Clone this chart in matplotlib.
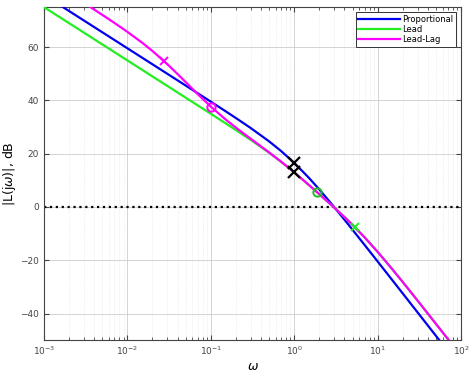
import numpy as np
import matplotlib
matplotlib.use("Agg")
import matplotlib.pyplot as plt
from matplotlib.ticker import LogLocator, NullFormatter

# frequency grid (rad/s) and loop gain magnitudes in dB
w = [0.001, 0.002, 0.003, 0.005, 0.007, 0.01, 0.015, 0.02, 0.03, 0.04, 0.05, 0.07,
     0.1, 0.15, 0.2, 0.3, 0.5, 0.7, 1, 1.5, 2, 3, 4, 5, 7, 10, 15, 20, 30, 50, 100]
mag_prop = [79.55, 73.53, 70.01, 65.57, 62.65, 59.55, 56.03, 53.53, 50.01, 47.50,
            45.56, 42.63, 39.51, 35.93, 33.36, 29.64, 24.60, 20.91, 16.54, 10.91,
            6.54, 0.01, -4.79, -8.58, -14.34, -20.49, -27.51, -32.50, -39.54,
            -48.41, -60.45]
mag_lead = [75.00, 68.98, 65.46, 61.02, 58.10, 55.00, 51.48, 48.98, 45.46, 42.95,
            41.01, 38.08, 34.97, 31.40, 28.85, 25.19, 20.31, 16.86, 12.94, 8.20,
            4.75, -0.18, -3.80, -6.74, -11.47, -16.87, -23.41, -28.21, -35.11,
            -43.91, -55.92]
mag_leadlag = [86.21, 80.17, 76.63, 72.10, 69.06, 65.72, 61.66, 58.52, 53.64, 49.87,
               46.85, 42.29, 37.66, 32.85, 29.74, 25.61, 20.47, 16.94, 12.98, 8.22,
               4.76, -0.17, -3.80, -6.74, -11.47, -16.87, -23.41, -28.21, -35.11,
               -43.91, -55.92]

# pole (x) and zero (o) locations on the curves
plant_pole_w = [1, 1]
plant_pole_db = [16.54, 12.98]
lag_pole = (0.0275, 54.73)
lag_zero = (0.1, 37.66)
lead_zero = (1.86, 5.63)
lead_pole = (5.3, -7.54)

fig = plt.figure(figsize=(4.72, 3.73), dpi=100)
ax = fig.add_axes([0.093, 0.088, 0.884, 0.893])

ax.semilogx(w, mag_prop, color="#0000ee", lw=1.6, label="Proportional", zorder=3)
ax.semilogx(w, mag_lead, color="#22ee22", lw=1.6, label="Lead", zorder=3)
ax.semilogx(w, mag_leadlag, color="#ff00ff", lw=1.6, label="Lead-Lag", zorder=4)
ax.axhline(0, color="black", ls=":", lw=1.6, zorder=2)

ax.plot(plant_pole_w, plant_pole_db, "x", color="black", ms=8, mew=1.6, zorder=5)
ax.plot(*lag_pole, "x", color="#ff00ff", ms=6, mew=1.4, zorder=5)
ax.plot(*lag_zero, "o", mfc="none", mec="#ff00ff", ms=6, mew=1.4, zorder=5)
ax.plot(*lead_zero, "o", mfc="none", mec="#22bb22", ms=6, mew=1.4, zorder=5)
ax.plot(*lead_pole, "x", color="#22ee22", ms=6, mew=1.4, zorder=5)

ax.set_xlim(1e-3, 1e2)
ax.set_ylim(-50, 75)
ax.set_yticks([-40, -20, 0, 20, 40, 60])
ax.xaxis.set_major_locator(LogLocator(base=10, numticks=10))
ax.xaxis.set_minor_locator(LogLocator(base=10, subs=np.arange(2, 10), numticks=20))
ax.xaxis.set_minor_formatter(NullFormatter())

ax.grid(True, which="major", color="#cccccc", lw=0.6, ls="-")
ax.grid(True, which="minor", axis="x", color="#e0e0e0", lw=0.5, ls=":")
ax.tick_params(which="both", direction="in", top=True, right=True,
               colors="#444444", labelsize=6.5, labelcolor="#444444")
ax.tick_params(which="major", length=3.5)
ax.tick_params(which="minor", length=2)
for s in ax.spines.values():
    s.set_color("#444444")
    s.set_linewidth(0.8)

ax.set_ylabel(r"|L(j$\omega$)|, dB", fontsize=9)
ax.yaxis.set_label_coords(-0.062, 0.5)
ax.set_xlabel(r"$\omega$", fontsize=9, labelpad=2)

leg = ax.legend(loc="upper right", fontsize=6, handlelength=5, borderaxespad=0.6,
                fancybox=False, edgecolor="#333333", framealpha=1,
                handletextpad=0.3, labelspacing=0.15, borderpad=0.3)
leg.get_frame().set_linewidth(0.7)

fig.savefig("out.png", dpi=100)
